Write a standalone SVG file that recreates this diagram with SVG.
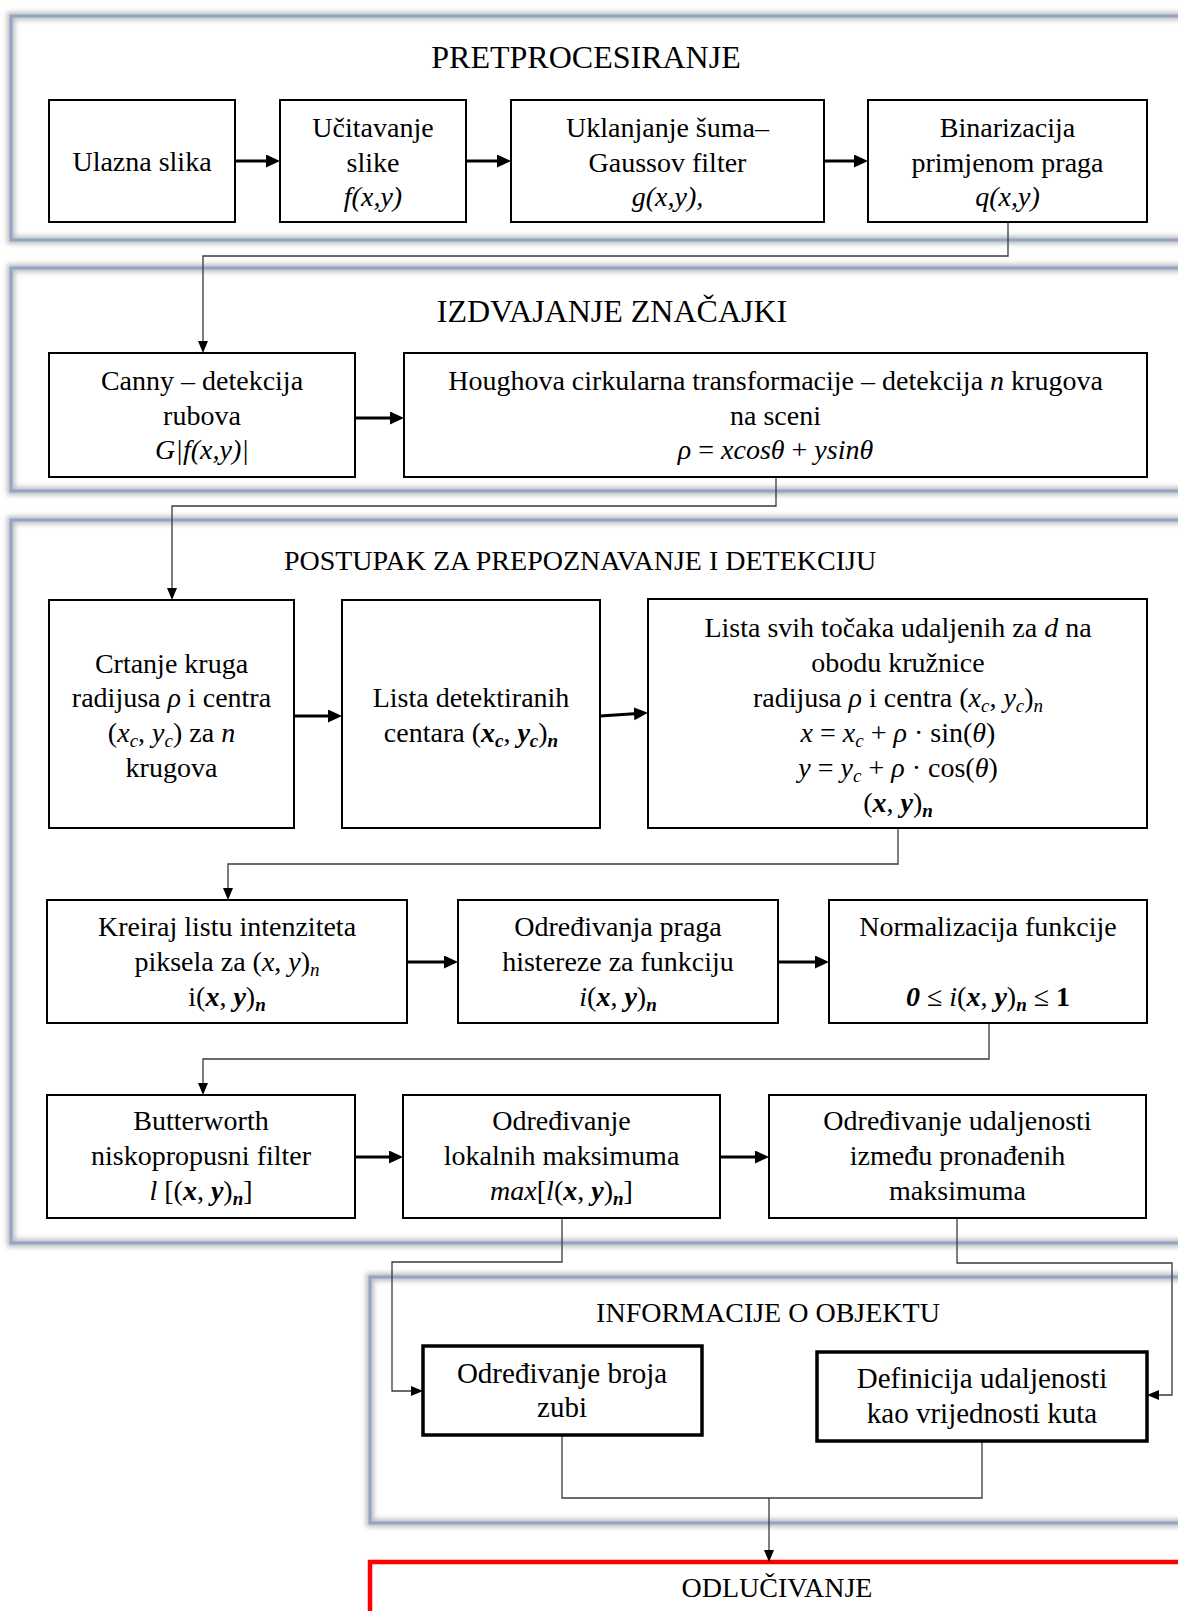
<svg xmlns="http://www.w3.org/2000/svg" width="1178" height="1611" viewBox="0 0 1178 1611">
<style>
.t{font-family:"Liberation Serif","Times New Roman",serif;font-size:28px;fill:#000;text-anchor:middle}
.h1{font-size:32px}
.h2{font-size:28px}
.t4{font-size:29px}
.i{font-style:italic}
.bi{font-style:italic;font-weight:bold}
.b{font-weight:bold}
.box{fill:#fff;stroke:#000;stroke-width:2}
.box4{fill:#fff;stroke:#000;stroke-width:3.5}
.arr{stroke:#000;stroke-width:3;fill:none;marker-end:url(#ah)}
.con{stroke:#3a3a3a;stroke-width:1.3;fill:none}
.cona{stroke:#3a3a3a;stroke-width:1.3;fill:none;marker-end:url(#ahs)}
.fsh{fill:none;stroke:#bdbdbd;stroke-width:8;filter:url(#blur)}
.fr{fill:none;stroke:#91a5c9;stroke-width:3}
</style>
<defs>
<filter id="blur" x="-5%" y="-5%" width="110%" height="110%"><feGaussianBlur stdDeviation="2.5"/></filter>
<marker id="ah" markerUnits="userSpaceOnUse" markerWidth="16" markerHeight="14" refX="4" refY="6.5" orient="auto"><path d="M0,0 L14,6.5 L0,13 z" fill="#000"/></marker>
<marker id="ahs" markerUnits="userSpaceOnUse" markerWidth="14" markerHeight="12" refX="2" refY="5" orient="auto"><path d="M0,0 L12,5 L0,10 z" fill="#000"/></marker>
</defs>
<rect x="0" y="0" width="1178" height="1611" fill="#fff"/>

<g id="frames">
<rect class="fsh" x="11" y="16" width="1200" height="224"/>
<rect class="fr" x="11" y="16" width="1200" height="224"/>
<rect class="fsh" x="11" y="268" width="1200" height="223"/>
<rect class="fr" x="11" y="268" width="1200" height="223"/>
<rect class="fsh" x="11" y="520" width="1200" height="723"/>
<rect class="fr" x="11" y="520" width="1200" height="723"/>
<rect class="fsh" x="370" y="1277" width="900" height="246"/>
<rect class="fr" x="370" y="1277" width="900" height="246"/>
<rect fill="#fff" stroke="#ff0000" stroke-width="4.5" x="370" y="1562" width="900" height="100"/>
</g>

<g id="titles">
<text class="t h1" x="586" y="68">PRETPROCESIRANJE</text>
<text class="t h1" x="612" y="322">IZDVAJANJE  ZNAČAJKI</text>
<text class="t h2" x="580" y="570">POSTUPAK ZA PREPOZNAVANJE I DETEKCIJU</text>
<text class="t h2" x="768" y="1322">INFORMACIJE O OBJEKTU</text>
<text class="t h2" x="777" y="1597">ODLUČIVANJE</text>
</g>

<g id="connectors">
<line class="arr" x1="235" y1="161" x2="270" y2="161"/>
<line class="arr" x1="466" y1="161" x2="501" y2="161"/>
<line class="arr" x1="824" y1="161" x2="858" y2="161"/>
<path class="cona" d="M1008,222 V256 H203 V343"/>
<line class="arr" x1="355" y1="418" x2="394" y2="418"/>
<path class="cona" d="M776,477 V506 H172 V590"/>
<line class="arr" x1="294" y1="716" x2="332" y2="716"/>
<line class="arr" x1="600" y1="716" x2="638" y2="713.5"/>
<path class="cona" d="M898,828 V864 H228 V890"/>
<line class="arr" x1="407" y1="962" x2="448" y2="962"/>
<line class="arr" x1="778" y1="962" x2="819" y2="962"/>
<path class="cona" d="M989,1023 V1059 H203 V1085"/>
<line class="arr" x1="355" y1="1157" x2="393" y2="1157"/>
<line class="arr" x1="720" y1="1157" x2="759" y2="1157"/>
<path class="cona" d="M562,1218 V1262 H392 V1391 H413"/>
<path class="cona" d="M957,1218 V1263 H1172 V1395 H1157"/>
<path class="con" d="M562,1435 V1498 H982 V1441"/>
<path class="cona" d="M769,1498 V1552"/>
</g>

<g id="n-ulazna"><rect class="box" x="49" y="100" width="186" height="122"/><text class="t" x="142" y="171">Ulazna slika</text></g>
<g id="n-ucitavanje"><rect class="box" x="280" y="100" width="186" height="122"/><text class="t" x="373" y="137">Učitavanje</text><text class="t" x="373" y="172">slike</text><text class="t i" x="373" y="206">f(x,y)</text></g>
<g id="n-uklanjanje"><rect class="box" x="511" y="100" width="313" height="122"/><text class="t" x="667.5" y="137">Uklanjanje šuma–</text><text class="t" x="667.5" y="172">Gaussov filter</text><text class="t i" x="667.5" y="206">g(x,y),</text></g>
<g id="n-binarizacija"><rect class="box" x="868" y="100" width="279" height="122"/><text class="t" x="1007.5" y="137">Binarizacija</text><text class="t" x="1007.5" y="172">primjenom praga</text><text class="t i" x="1007.5" y="206">q(x,y)</text></g>

<g id="n-canny"><rect class="box" x="49" y="353" width="306" height="124"/><text class="t" x="202" y="390">Canny – detekcija</text><text class="t" x="202" y="425">rubova</text><text class="t i" x="202" y="459">G|f(x,y)|</text></g>
<g id="n-hough"><rect class="box" x="404" y="353" width="743" height="124"/><text class="t" x="775.5" y="390">Houghova  cirkularna  transformacije – detekcija <tspan class="i">n</tspan> krugova</text><text class="t" x="775.5" y="425">na sceni</text><text class="t" x="775.5" y="459"><tspan class="i">ρ</tspan> = <tspan class="i">xcosθ</tspan> + <tspan class="i">ysinθ</tspan></text></g>

<g id="n-crtanje"><rect class="box" x="49" y="600" width="245" height="228"/><text class="t" x="171.5" y="673">Crtanje kruga</text><text class="t" x="171.5" y="707">radijusa <tspan class="i">ρ</tspan> i centra</text><text class="t" x="171.5" y="742">(<tspan class="i">x</tspan><tspan class="i" font-size="19" dy="5">c</tspan><tspan dy="-5">, </tspan><tspan class="i">y</tspan><tspan class="i" font-size="19" dy="5">c</tspan><tspan dy="-5">) za </tspan><tspan class="i">n</tspan></text><text class="t" x="171.5" y="777">krugova</text></g>
<g id="n-lista-det"><rect class="box" x="342" y="600" width="258" height="228"/><text class="t" x="471" y="707">Lista detektiranih</text><text class="t" x="471" y="742">centara (<tspan class="bi">x</tspan><tspan class="bi" font-size="19" dy="5">c</tspan><tspan dy="-5">, </tspan><tspan class="bi">y</tspan><tspan class="bi" font-size="19" dy="5">c</tspan><tspan dy="-5">)</tspan><tspan class="bi" font-size="19" dy="5">n</tspan></text></g>
<g id="n-lista-svih"><rect class="box" x="648" y="599" width="499" height="229"/><text class="t" x="898" y="637">Lista svih točaka udaljenih za <tspan class="i">d</tspan>  na</text><text class="t" x="898" y="672">obodu kružnice</text><text class="t" x="898" y="707">radijusa <tspan class="i">ρ</tspan> i centra (<tspan class="i">x</tspan><tspan class="i" font-size="19" dy="5">c</tspan><tspan dy="-5">, </tspan><tspan class="i">y</tspan><tspan class="i" font-size="19" dy="5">c</tspan><tspan dy="-5">)</tspan><tspan class="i" font-size="19" dy="5">n</tspan></text><text class="t" x="898" y="742"><tspan class="i">x</tspan> = <tspan class="i">x</tspan><tspan class="i" font-size="19" dy="5">c</tspan><tspan dy="-5"> + </tspan><tspan class="i">ρ</tspan> · sin(<tspan class="i">θ</tspan>)</text><text class="t" x="898" y="777"><tspan class="i">y</tspan> = <tspan class="i">y</tspan><tspan class="i" font-size="19" dy="5">c</tspan><tspan dy="-5"> + </tspan><tspan class="i">ρ</tspan> · cos(<tspan class="i">θ</tspan>)</text><text class="t" x="898" y="812">(<tspan class="bi">x</tspan>, <tspan class="bi">y</tspan>)<tspan class="bi" font-size="19" dy="5">n</tspan></text></g>

<g id="n-kreiraj"><rect class="box" x="47" y="900" width="360" height="123"/><text class="t" x="227" y="936">Kreiraj  listu  intenziteta</text><text class="t" x="227" y="971">piksela za (<tspan class="i">x</tspan>, <tspan class="i">y</tspan>)<tspan class="i" font-size="19" dy="5">n</tspan></text><text class="t" x="227" y="1006">i(<tspan class="bi">x</tspan>, <tspan class="bi">y</tspan>)<tspan class="bi" font-size="19" dy="5">n</tspan></text></g>
<g id="n-prag"><rect class="box" x="458" y="900" width="320" height="123"/><text class="t" x="618" y="936">Određivanja praga</text><text class="t" x="618" y="971">histereze za funkciju</text><text class="t" x="618" y="1006"><tspan class="i">i</tspan>(<tspan class="bi">x</tspan>, <tspan class="bi">y</tspan>)<tspan class="bi" font-size="19" dy="5">n</tspan></text></g>
<g id="n-normalizacija"><rect class="box" x="829" y="900" width="318" height="123"/><text class="t" x="988" y="936">Normalizacija  funkcije</text><text class="t" x="988" y="1006"><tspan class="bi">0</tspan> ≤ <tspan class="i">i</tspan>(<tspan class="bi">x</tspan>, <tspan class="bi">y</tspan>)<tspan class="bi" font-size="19" dy="5">n</tspan><tspan dy="-5"> ≤ </tspan><tspan class="b">1</tspan></text></g>

<g id="n-butterworth"><rect class="box" x="47" y="1095" width="308" height="123"/><text class="t" x="201" y="1130">Butterworth</text><text class="t" x="201" y="1165">niskopropusni filter</text><text class="t" x="201" y="1200"><tspan class="i">l</tspan> [(<tspan class="bi">x</tspan>, <tspan class="bi">y</tspan>)<tspan class="bi" font-size="19" dy="5">n</tspan><tspan dy="-5">]</tspan></text></g>
<g id="n-lokalni"><rect class="box" x="403" y="1095" width="317" height="123"/><text class="t" x="561.5" y="1130">Određivanje</text><text class="t" x="561.5" y="1165">lokalnih  maksimuma</text><text class="t" x="561.5" y="1200"><tspan class="i">max</tspan>[<tspan class="i">l</tspan>(<tspan class="bi">x</tspan>, <tspan class="bi">y</tspan>)<tspan class="bi" font-size="19" dy="5">n</tspan><tspan dy="-5">]</tspan></text></g>
<g id="n-udaljenost"><rect class="box" x="769" y="1095" width="377" height="123"/><text class="t" x="957.5" y="1130">Određivanje udaljenosti</text><text class="t" x="957.5" y="1165">između pronađenih</text><text class="t" x="957.5" y="1200">maksimuma</text></g>

<g id="n-zubi"><rect class="box4" x="423" y="1346" width="279" height="89"/><text class="t t4" x="562" y="1383">Određivanje broja</text><text class="t t4" x="562" y="1417">zubi</text></g>
<g id="n-kut"><rect class="box4" x="817" y="1352" width="330" height="89"/><text class="t t4" x="982" y="1388">Definicija  udaljenosti</text><text class="t t4" x="982" y="1423">kao vrijednosti kuta</text></g>
</svg>
